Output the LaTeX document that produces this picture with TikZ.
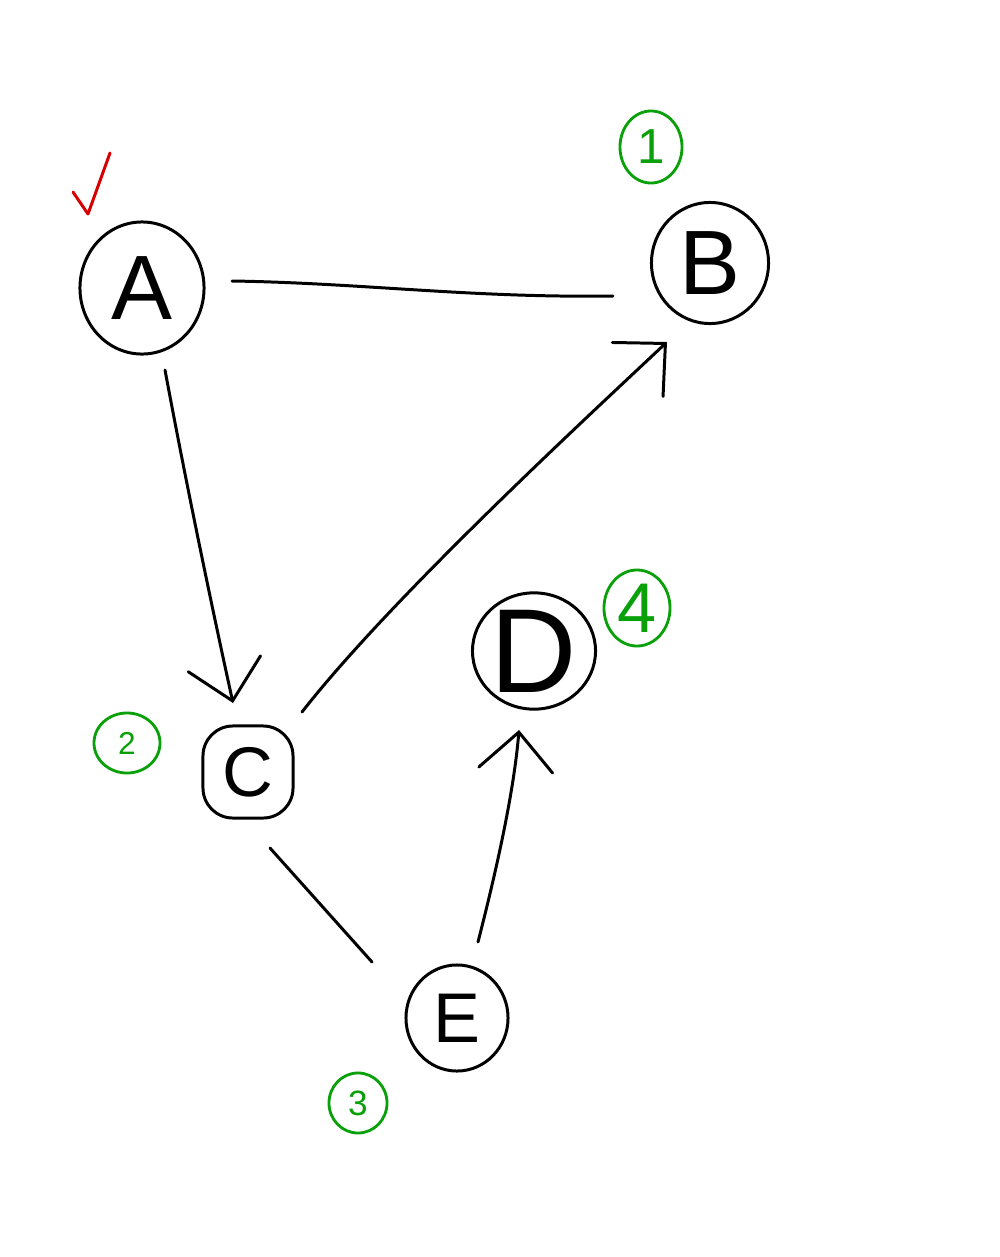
\documentclass[tikz,border=0pt]{standalone}
\usepackage{fontspec}
\newfontfamily\hand{Liberation Sans}
\usetikzlibrary{shapes.geometric,arrows.meta,calc}
\definecolor{ink}{RGB}{0,0,0}
\definecolor{grn}{RGB}{10,160,10}
\definecolor{redmark}{RGB}{215,0,0}
\tikzset{
  vert/.style={ellipse,draw=ink,line width=0.85pt,inner sep=0pt,font=\hand},
  numc/.style={ellipse,draw=grn,text=grn,line width=0.8pt,inner sep=0pt,font=\hand},
  edge/.style={draw=ink,line width=0.85pt,line cap=round},
  arr/.style={edge,-{Straight Barb[length=3.8mm,width=7.4mm,line cap=round]}}
}
\begin{document}
\begin{tikzpicture}[x=0.01cm,y=-0.01cm]
\useasboundingbox[fill=white] (0,0) rectangle (1000,1257);
% vertices
\node[vert,minimum width=1.24cm,minimum height=1.32cm,font=\hand\fontsize{26}{28}\selectfont] (A) at (142,288) {A};
\node[vert,minimum width=1.17cm,minimum height=1.21cm,font=\hand\fontsize{26}{28}\selectfont] (B) at (710,263) {B};
\node[rectangle,rounded corners=0.3cm,draw=ink,line width=0.85pt,inner sep=0pt,minimum width=0.9cm,minimum height=0.92cm,font=\hand\fontsize{20}{22}\selectfont] (C) at (248,772) {C};
\node[vert,minimum width=1.23cm,minimum height=1.1cm,font=\hand\fontsize{34}{36}\selectfont] (D) at (534,651) {D};
\node[vert,minimum width=1.02cm,minimum height=1.06cm,font=\hand\fontsize{20}{22}\selectfont] (E) at (457,1018) {E};
% green order labels
\node[numc,minimum width=0.62cm,minimum height=0.72cm,font=\hand\fontsize{14}{16}\selectfont] (n1) at (651,147) {1};
\node[numc,minimum width=0.66cm,minimum height=0.6cm,font=\hand\fontsize{9}{10}\selectfont] (n2) at (127,743) {2};
\node[numc,minimum width=0.58cm,minimum height=0.6cm,font=\hand\fontsize{10}{11}\selectfont] (n3) at (358,1103) {3};
\node[numc,minimum width=0.66cm,minimum height=0.76cm,font=\hand\fontsize{20}{22}\selectfont] (n4) at (637,608) {4};
% red check mark
\coordinate (chk) at (88,214);
\draw[redmark,line width=0.85pt,line cap=round,line join=round] ($(chk)+(-15,-22)$) -- (chk) -- ($(chk)+(22,-61)$);
% edges
\draw[edge] ($(A)+(90,-7)$) .. controls ($(A)+(220,-5)$) and ($(B)+(-240,35)$) .. ($(B)+(-97,33)$);
\draw[arr] ($(A)+(23,82)$) .. controls ($(A)+(45,200)$) and ($(C)+(-35,-160)$) .. ($(C)+(-15,-69)$);
\draw[arr] ($(C)+(54,-60)$) .. controls ($(C)+(140,-170)$) and ($(B)+(-140,170)$) .. ($(B)+(-43,79)$);
\draw[edge] ($(C)+(22,76)$) -- ($(E)+(-85,-56)$);
\draw[arr] ($(E)+(21,-76)$) .. controls ($(E)+(40,-150)$) and ($(D)+(-20,140)$) .. ($(D)+(-15,79)$);
\end{tikzpicture}
\end{document}
